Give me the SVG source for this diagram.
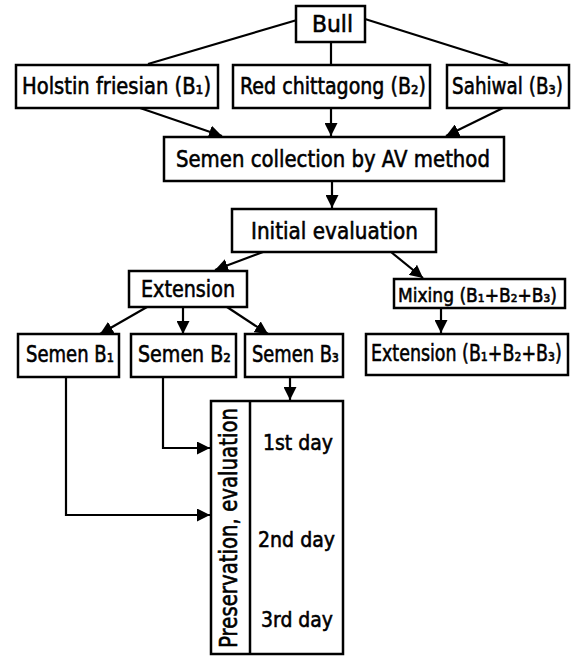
<svg xmlns="http://www.w3.org/2000/svg" width="573" height="656" viewBox="0 0 573 656">
<style>
.box{fill:#fff;stroke:#000;stroke-width:2.5}
.t{font-family:"DejaVu Sans",Verdana,sans-serif;font-size:23px;fill:#000;stroke:#000;stroke-width:0.6}
.c{fill:none;stroke:#000;stroke-width:2.2}
</style>
<defs>
<marker id="ah" markerUnits="userSpaceOnUse" markerWidth="14" markerHeight="13" refX="13" refY="6.5" orient="auto">
<path d="M0,0 L13,6.5 L0,13 z" fill="#000"/>
</marker>
</defs>
<rect width="573" height="656" fill="#fff"/>
<g id="connectors">
<line class="c" x1="297" y1="20" x2="148" y2="64"/>
<line class="c" x1="331" y1="42" x2="331" y2="64"/>
<line class="c" x1="365" y1="19" x2="508" y2="64"/>
<line class="c" x1="140" y1="108" x2="222" y2="136" marker-end="url(#ah)"/>
<line class="c" x1="331" y1="108" x2="331" y2="136" marker-end="url(#ah)"/>
<line class="c" x1="503" y1="108" x2="446" y2="136" marker-end="url(#ah)"/>
<line class="c" x1="332" y1="181" x2="332" y2="208" marker-end="url(#ah)"/>
<line class="c" x1="263" y1="252" x2="215" y2="270" marker-end="url(#ah)"/>
<line class="c" x1="391" y1="252" x2="423" y2="278" marker-end="url(#ah)"/>
<line class="c" x1="147" y1="307" x2="100" y2="334" marker-end="url(#ah)"/>
<line class="c" x1="183" y1="307" x2="183" y2="334" marker-end="url(#ah)"/>
<line class="c" x1="227" y1="307" x2="268" y2="334" marker-end="url(#ah)"/>
<line class="c" x1="441" y1="308" x2="441" y2="333" marker-end="url(#ah)"/>
<line class="c" x1="290" y1="377" x2="290" y2="400" marker-end="url(#ah)"/>
<polyline class="c" points="163,377 163,448 210,448" marker-end="url(#ah)"/>
<polyline class="c" points="66,377 66,515 210,515" marker-end="url(#ah)"/>
</g>
<g id="bull">
<rect class="box" x="296" y="6" width="69" height="36"/>
<text class="t" transform="translate(312,32) scale(0.95,1)" textLength="43.2" lengthAdjust="spacingAndGlyphs">Bull</text>
</g>
<g id="holstin">
<rect class="box" x="16" y="65" width="202" height="43"/>
<text class="t" transform="translate(22,94) scale(0.85,1)" textLength="222.4" lengthAdjust="spacingAndGlyphs">Holstin friesian (B₁)</text>
</g>
<g id="red">
<rect class="box" x="233" y="65" width="197" height="43"/>
<text class="t" transform="translate(240,94) scale(0.747,1)" textLength="249" lengthAdjust="spacingAndGlyphs">Red chittagong (B₂)</text>
</g>
<g id="sahiwal">
<rect class="box" x="447" y="65" width="122" height="43"/>
<text class="t" transform="translate(452,94) scale(0.8,1)" textLength="138.75" lengthAdjust="spacingAndGlyphs">Sahiwal (B₃)</text>
</g>
<g id="collection">
<rect class="box" x="164" y="137" width="340" height="44"/>
<text class="t" transform="translate(176,167) scale(0.853,1)" textLength="368" lengthAdjust="spacingAndGlyphs">Semen collection by AV method</text>
</g>
<g id="initial">
<rect class="box" x="232" y="209" width="204" height="43"/>
<text class="t" transform="translate(251,239) scale(0.87,1)" textLength="192" lengthAdjust="spacingAndGlyphs">Initial evaluation</text>
</g>
<g id="extension">
<rect class="box" x="129" y="271" width="118" height="36"/>
<text class="t" transform="translate(141,297) scale(0.83,1)" textLength="113.3" lengthAdjust="spacingAndGlyphs">Extension</text>
</g>
<g id="mixing">
<rect class="box" x="394" y="279" width="171" height="29"/>
<text class="t" transform="translate(398,302) scale(0.855,1)" textLength="186" lengthAdjust="spacingAndGlyphs" style="font-size:20px">Mixing (B₁+B₂+B₃)</text>
</g>
<g id="extension-mix">
<rect class="box" x="366" y="334" width="202" height="41"/>
<text class="t" transform="translate(371,361) scale(0.76,1)" textLength="251" lengthAdjust="spacingAndGlyphs">Extension (B₁+B₂+B₃)</text>
</g>
<g id="semen-b1">
<rect class="box" x="18" y="334" width="101" height="43"/>
<text class="t" transform="translate(26,362) scale(0.785,1)" textLength="112" lengthAdjust="spacingAndGlyphs">Semen B₁</text>
</g>
<g id="semen-b2">
<rect class="box" x="131" y="334" width="105" height="43"/>
<text class="t" transform="translate(138,362) scale(0.83,1)" textLength="112" lengthAdjust="spacingAndGlyphs">Semen B₂</text>
</g>
<g id="semen-b3">
<rect class="box" x="245" y="334" width="98" height="43"/>
<text class="t" transform="translate(252,362) scale(0.777,1)" textLength="112" lengthAdjust="spacingAndGlyphs">Semen B₃</text>
</g>
<g id="preservation">
<rect class="box" x="211" y="401" width="132" height="253"/>
<line x1="250" y1="401" x2="250" y2="654" stroke="#000" stroke-width="2.5"/>
<text class="t" transform="translate(237,648) rotate(-90) scale(0.82,1)" textLength="292.7" lengthAdjust="spacingAndGlyphs" style="font-size:24px">Preservation, evaluation</text>
<text class="t" transform="translate(263,450) scale(0.9,1)" textLength="77.8" lengthAdjust="spacingAndGlyphs" style="font-size:21px">1st day</text>
<text class="t" transform="translate(258,547) scale(0.9,1)" textLength="85.6" lengthAdjust="spacingAndGlyphs" style="font-size:21px">2nd day</text>
<text class="t" transform="translate(261,627) scale(0.89,1)" textLength="80.9" lengthAdjust="spacingAndGlyphs" style="font-size:21px">3rd day</text>
</g>
</svg>
